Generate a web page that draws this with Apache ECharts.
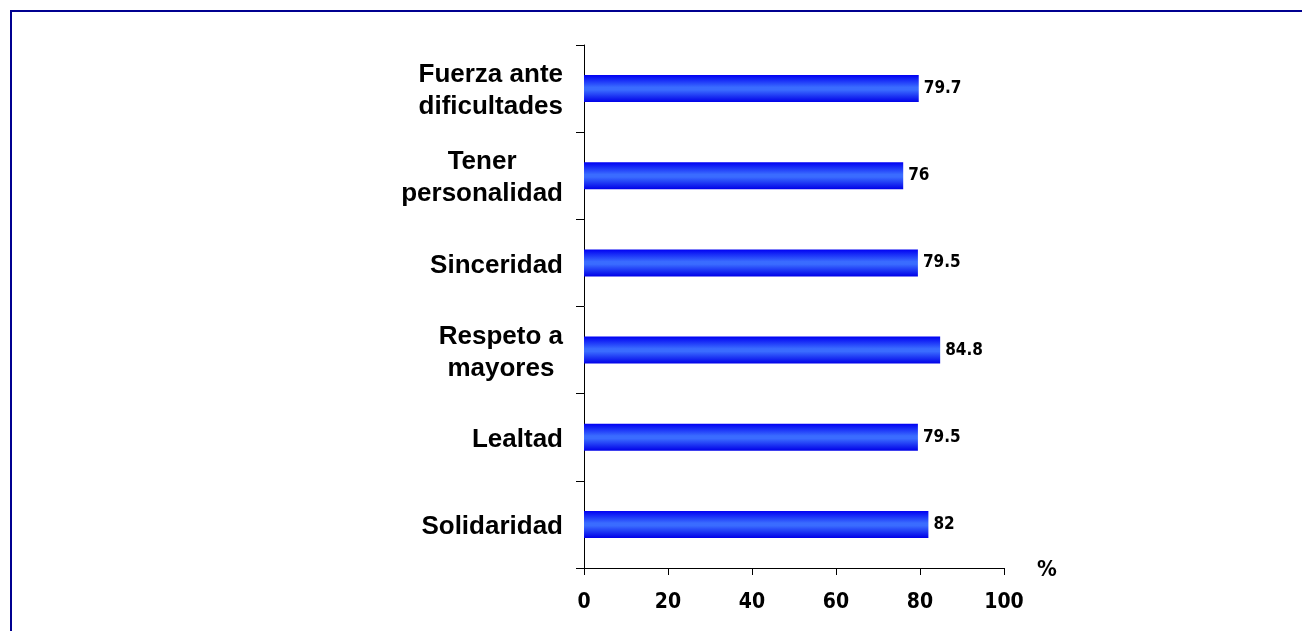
<!DOCTYPE html>
<html>
<head>
<meta charset="utf-8">
<script src="https://cdn.jsdelivr.net/npm/echarts@6/dist/echarts.min.js"></script>
<style>
  html, body { margin: 0; padding: 0; background: #fff; overflow: hidden; }
  .frame {
    position: absolute;
    left: 10px;
    top: 10px;
    width: 1400px;
    height: 800px;
    border: 2px solid #000090;
  }
  #chart { position: absolute; left: 0; top: 0; width: 1302px; height: 631px; }
</style>
</head>
<body>
<div class="frame"></div>
<div id="chart"></div>
<script>
// top to bottom, as shown
const categories = [
  "Fuerza ante\ndificultades",
  "Tener\npersonalidad",
  "Sinceridad",
  "Respeto a\nmayores",
  "Lealtad",
  "Solidaridad",
];
const values = [79.7, 76, 79.5, 84.8, 79.5, 82];
const xTicks = [0, 20, 40, 60, 80, 100];

const myChart = echarts.init(document.getElementById("chart"));
myChart.setOption({
  animation: false,
  grid: {
    left: 584,
    right: 298,
    top: 45,
    bottom: 63,
    containLabel: false,
  },
  xAxis: {
    type: "value",
    min: xTicks[0],
    max: xTicks[xTicks.length - 1],
    interval: xTicks[1] - xTicks[0],
    name: "%",
    nameLocation: "end",
    nameGap: 33,
    nameTextStyle: {
      fontFamily: "DejaVu Sans Condensed",
      fontWeight: "bold",
      fontSize: 22,
      color: "#000",
      verticalAlign: "top",
      lineHeight: 4,
    },
    axisLine: { show: true, lineStyle: { color: "#000", width: 1 } },
    axisTick: { show: true, length: 7, lineStyle: { color: "#000" } },
    splitLine: { show: false },
    axisLabel: {
      margin: 24,
      fontFamily: "DejaVu Sans Condensed",
      fontWeight: "bold",
      fontSize: 21,
      color: "#000",
    },
  },
  yAxis: {
    type: "category",
    data: categories,
    inverse: true,
    axisLine: { show: true, lineStyle: { color: "#000", width: 1 } },
    axisTick: { show: true, length: 8, lineStyle: { color: "#000" } },
    axisLabel: {
      margin: 21,
      align: "right",
      padding: [5, 0, 0, 0],
      formatter: function (v) {
        // each line centred under the others, whole block right-aligned
        return v.split("\n").map(function (s) { return "{c|" + s + "}"; }).join("\n");
      },
      rich: {
        c: {
          align: "center",
          fontFamily: "Liberation Sans",
          fontWeight: "bold",
          fontSize: 26,
          lineHeight: 32,
          color: "#000",
        },
      },
    },
  },
  series: [
    {
      type: "bar",
      data: values,
      barWidth: 27,
      itemStyle: {
        color: new echarts.graphic.LinearGradient(0, 0, 0, 1, [
          { offset: 0, color: "#0000f2" },
          { offset: 0.45, color: "#3a6cff" },
          { offset: 0.55, color: "#3a6cff" },
          { offset: 1, color: "#0000e8" },
        ]),
      },
      label: {
        show: true,
        position: "right",
        distance: 5,
        fontFamily: "DejaVu Sans Condensed",
        fontWeight: "bold",
        fontSize: 17,
        color: "#000",
      },
    },
  ],
});
</script>
</body>
</html>
